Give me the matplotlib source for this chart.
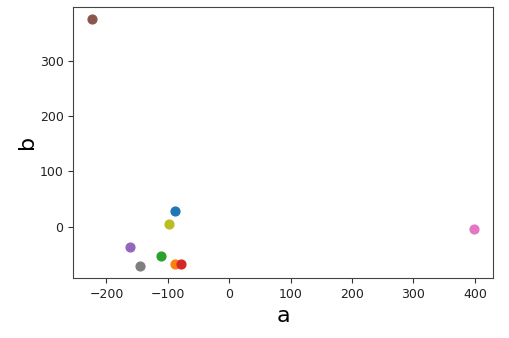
import matplotlib
matplotlib.use("Agg")
import matplotlib.pyplot as plt

a_vals = [-88, -88.6, -110.4, -77.8, -161.5, -223, 398, -145.2, -98.4]
b_vals = [27.9, -67.6, -53.6, -67.6, -37.3, 375, -4.2, -70.5, 4.9]
colors = ["tab:blue", "tab:orange", "tab:green", "tab:red", "tab:purple",
          "tab:brown", "tab:pink", "tab:gray", "tab:olive"]

fig = plt.figure(figsize=(5.10, 3.38), dpi=100)
ax = fig.add_axes([0.1437, 0.178, 0.966 - 0.1437, 0.980 - 0.178])
for x, y, c in zip(a_vals, b_vals, colors):
    ax.scatter(x, y, color=c, s=40)
ax.set_xticks([-200, -100, 0, 100, 200, 300, 400])
ax.set_yticks([0, 100, 200, 300])
ax.tick_params(labelsize=9, colors="#333333", labelcolor="#222222")
for s in ax.spines.values():
    s.set_color("#444444")
ax.set_xlabel("a", fontsize=16, labelpad=4)
ax.set_ylabel("b", fontsize=16, labelpad=2)
fig.savefig("out.png", dpi=100)
